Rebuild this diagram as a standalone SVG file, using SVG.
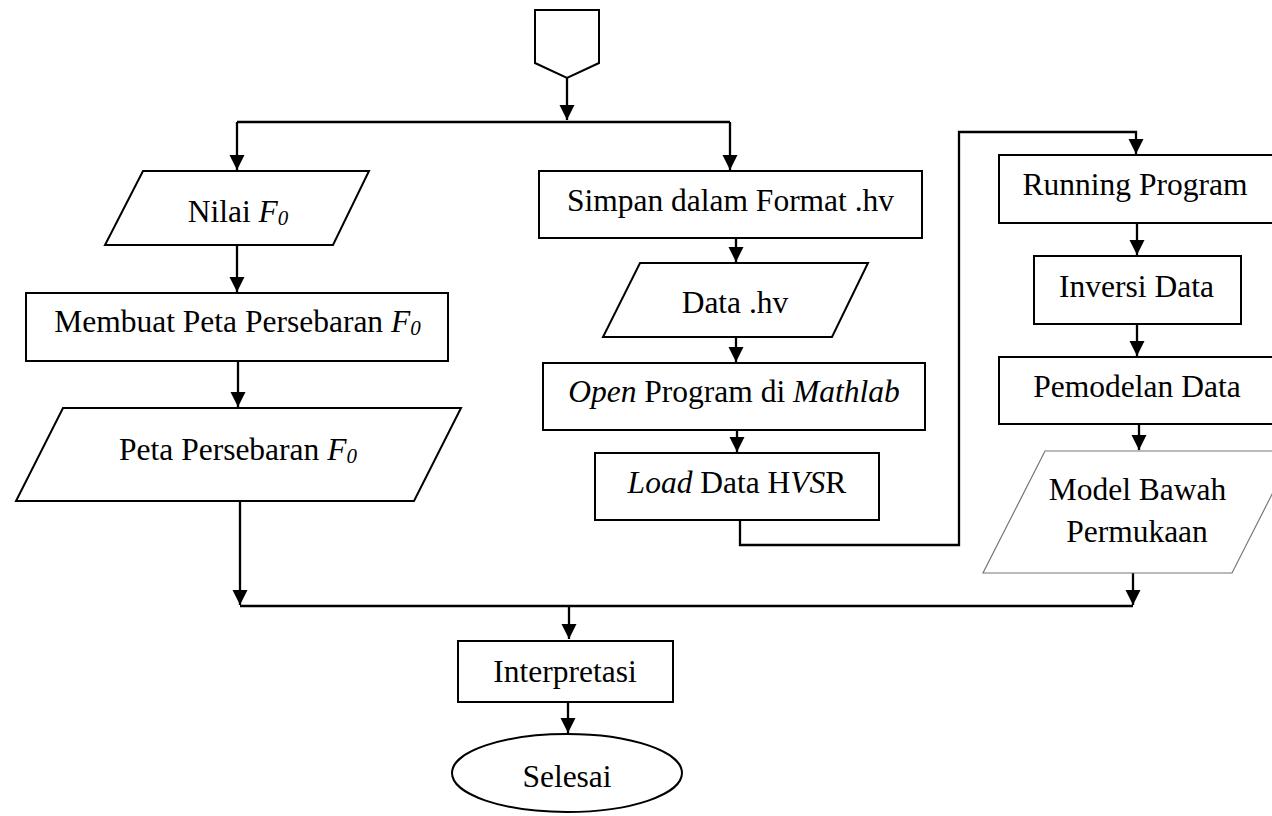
<svg xmlns="http://www.w3.org/2000/svg" width="1272" height="816" viewBox="0 0 1272 816">
<style>
.s{fill:#fff;stroke:#000;stroke-width:2}
.t{stroke:#777;stroke-width:1.2;fill:#fff}
.c{fill:none;stroke:#000;stroke-width:2.3}
text{font-family:"Liberation Serif","Times New Roman",serif;font-size:31.5px;fill:#000;text-anchor:middle}
.i{font-style:italic}
.sub{font-style:italic;font-size:21px}
</style>
<defs>
<marker id="a" markerUnits="userSpaceOnUse" markerWidth="18" markerHeight="18" refX="15" refY="7.5" orient="auto">
<path d="M0,0 L15,7.5 L0,15 Z" fill="#000"/>
</marker>
</defs>
<rect width="1272" height="816" fill="#fff"/>
<g id="connectors">
<path class="c" d="M567,78 V120" marker-end="url(#a)"/>
<path class="c" d="M237,122 H730"/>
<path class="c" d="M237,122 V170" marker-end="url(#a)"/>
<path class="c" d="M730,122 V170" marker-end="url(#a)"/>
<path class="c" d="M237,245 V292" marker-end="url(#a)"/>
<path class="c" d="M238,361 V407" marker-end="url(#a)"/>
<path class="c" d="M240,501 V605" marker-end="url(#a)"/>
<path class="c" d="M736,238 V262" marker-end="url(#a)"/>
<path class="c" d="M736,337 V362" marker-end="url(#a)"/>
<path class="c" d="M737,430 V452" marker-end="url(#a)"/>
<path class="c" d="M740,520 V545 H959 V132 H1136 V154" marker-end="url(#a)"/>
<path class="c" d="M1137,223 V255" marker-end="url(#a)"/>
<path class="c" d="M1137,324 V356" marker-end="url(#a)"/>
<path class="c" d="M1139,424 V450" marker-end="url(#a)"/>
<path class="c" d="M1133,573 V605" marker-end="url(#a)"/>
<path class="c" d="M240,606 H1133"/>
<path class="c" d="M569,606 V639" marker-end="url(#a)"/>
<path class="c" d="M568,702 V733" marker-end="url(#a)"/>
</g>
<g id="start">
<path class="s" d="M535,10 H599 V63 L567,78 L535,63 Z"/>
</g>
<g id="nilai">
<path class="s" d="M143,171 H369 L333,245 H105 Z"/>
<text x="238" y="222">Nilai <tspan class="i">F</tspan><tspan class="sub" dy="3">0</tspan></text>
</g>
<g id="membuat">
<rect class="s" x="26" y="293" width="422" height="68"/>
<text x="237.5" y="332">Membuat Peta Persebaran <tspan class="i">F</tspan><tspan class="sub" dy="3">0</tspan></text>
</g>
<g id="peta">
<path class="s" d="M63,408 H461 L414,501 H16 Z"/>
<text x="238" y="460">Peta Persebaran <tspan class="i">F</tspan><tspan class="sub" dy="3">0</tspan></text>
</g>
<g id="simpan">
<rect class="s" x="539" y="171" width="383" height="67"/>
<text x="730.5" y="211">Simpan dalam Format .hv</text>
</g>
<g id="datahv">
<path class="s" d="M640,263 H868 L832,337 H603 Z"/>
<text x="735" y="313">Data .hv</text>
</g>
<g id="open">
<rect class="s" x="543" y="363" width="382" height="67"/>
<text x="734" y="402"><tspan class="i">Open</tspan> Program di <tspan class="i">Mathlab</tspan></text>
</g>
<g id="load">
<rect class="s" x="595" y="453" width="284" height="67"/>
<text x="737" y="493"><tspan class="i">Load</tspan> Data H<tspan class="i">VS</tspan>R</text>
</g>
<g id="running">
<rect class="s" x="999" y="155" width="300" height="68"/>
<text x="1135" y="195">Running Program</text>
</g>
<g id="inversi">
<rect class="s" x="1034" y="256" width="207" height="68"/>
<text x="1136.5" y="297">Inversi Data</text>
</g>
<g id="pemodelan">
<rect class="s" x="999" y="357" width="300" height="67"/>
<text x="1137" y="397">Pemodelan Data</text>
</g>
<g id="model">
<path class="t" d="M1045,451 H1294 L1232,573 H983 Z"/>
<text x="1137.5" y="500">Model Bawah</text>
<text x="1137" y="542">Permukaan</text>
</g>
<g id="interpretasi">
<rect class="s" x="458" y="641" width="215" height="61"/>
<text x="565" y="682">Interpretasi</text>
</g>
<g id="selesai">
<ellipse class="s" cx="567" cy="773" rx="115" ry="39"/>
<text x="567" y="787">Selesai</text>
</g>
</svg>
